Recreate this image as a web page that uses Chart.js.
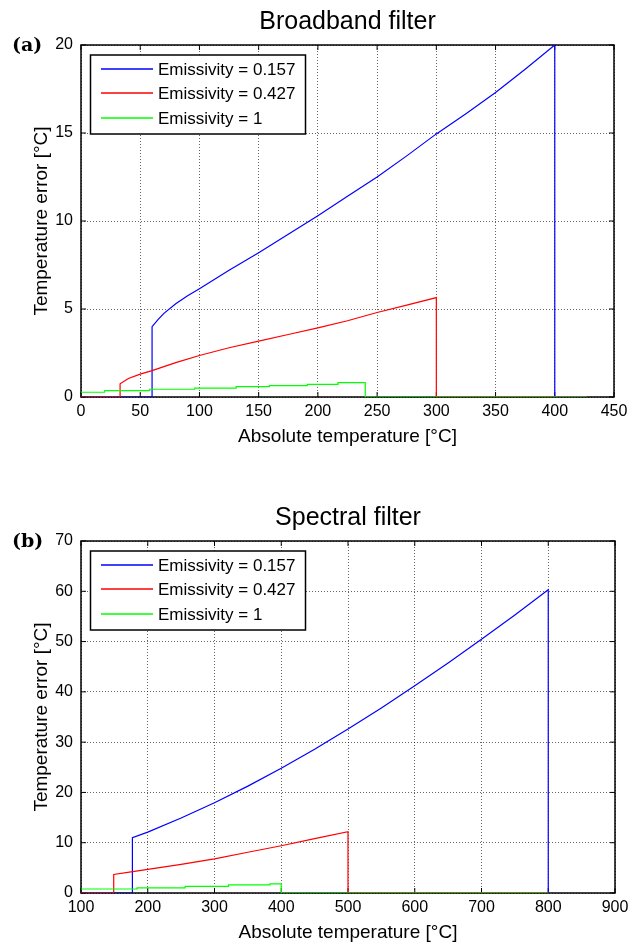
<!DOCTYPE html>
<html>
<head>
<meta charset="utf-8">
<script src="https://cdn.jsdelivr.net/npm/chart.js@4.4.1/dist/chart.umd.min.js"></script>
<style>
    body { margin: 0; background: #fff; width: 628px; height: 942px; position: relative; overflow: hidden; }
    canvas { position: absolute; left: 0; }
    .panel { position: absolute; left: 12px; font: bold 19px "DejaVu Serif", serif; line-height: 22px; color: #000; }
</style>
</head>
<body>
<canvas id="chartA" width="628" height="471" style="top:0"></canvas>
<canvas id="chartB" width="628" height="471" style="top:471px"></canvas>
<div class="panel" style="top:33px">(a)</div>
<div class="panel" style="top:529px">(b)</div>

<script>
// legend text, one per emissivity
const legendLabels = ["Emissivity = 0.157", "Emissivity = 0.427", "Emissivity = 1"];
const lineColors = ["#0000ff", "#ff0000", "#00ff00"];

// (a) broadband filter
const xTicksA = [0, 50, 100, 150, 200, 250, 300, 350, 400, 450];
const yTicksA = [0, 5, 10, 15, 20];
const blueTempA = [0, 60, 60, 65, 70, 80, 90, 100, 125, 150, 175, 200, 225, 250, 275, 300, 325, 350, 375, 400, 400, 427];
const blueErrA  = [0, 0, 4.0, 4.4, 4.75, 5.3, 5.75, 6.15, 7.2, 8.2, 9.25, 10.3, 11.4, 12.5, 13.7, 14.95, 16.1, 17.3, 18.62, 20.0, 0, 0];
const redTempA  = [0, 33, 33, 40, 50, 60, 80, 100, 125, 150, 175, 200, 225, 250, 275, 300, 300, 427];
const redErrA   = [0, 0, 0.75, 1.05, 1.3, 1.5, 1.95, 2.36, 2.8, 3.17, 3.55, 3.93, 4.33, 4.8, 5.22, 5.65, 0, 0];
const greenTempA = [0, 20, 20, 58, 58, 96, 96, 131, 131, 159, 159, 191, 191, 217, 217, 240, 240, 427];
const greenErrA  = [0.27, 0.27, 0.36, 0.36, 0.44, 0.44, 0.5, 0.5, 0.59, 0.59, 0.65, 0.65, 0.72, 0.72, 0.82, 0.82, 0, 0];

// (b) spectral filter
const xTicksB = [100, 200, 300, 400, 500, 600, 700, 800, 900];
const yTicksB = [0, 10, 20, 30, 40, 50, 60, 70];
const blueTempB = [100, 177, 177, 200, 250, 300, 350, 400, 450, 500, 550, 600, 650, 700, 750, 800, 800];
const blueErrB  = [0, 0, 11.0, 12.1, 14.9, 17.95, 21.25, 24.8, 28.6, 32.6, 36.8, 41.2, 45.75, 50.45, 55.3, 60.3, 0];
const redTempB  = [100, 149, 149, 180, 200, 250, 300, 350, 400, 450, 500, 500, 800];
const redErrB   = [0, 0, 3.7, 4.3, 4.7, 5.7, 6.8, 8.1, 9.4, 10.8, 12.2, 0, 0];
const greenTempB = [100, 184, 184, 256, 256, 321, 321, 383, 383, 400, 400, 800];
const greenErrB  = [0.8, 0.8, 1.0, 1.0, 1.3, 1.3, 1.6, 1.6, 1.8, 1.8, 0, 0];

const FONT = "'Liberation Sans', Arial, sans-serif";

function points(xs, ys) {
    return xs.map((x, i) => ({ x: x, y: ys[i] }));
}

// matlab style box, inward ticks and a legend inside the axes
const boxPlugin = {
    id: "box",
    beforeDatasetsDraw(chart) {
        const ctx = chart.ctx;
        const a = chart.chartArea;
        const sx = chart.scales.x, sy = chart.scales.y;
        ctx.save();
        ctx.strokeStyle = "#000";
        ctx.lineWidth = 1;
        ctx.beginPath();
        sx.ticks.forEach(t => {
            const px = sx.getPixelForValue(t.value);
            ctx.moveTo(px, a.bottom); ctx.lineTo(px, a.bottom - 5);
            ctx.moveTo(px, a.top); ctx.lineTo(px, a.top + 5);
        });
        sy.ticks.forEach(t => {
            const py = sy.getPixelForValue(t.value);
            ctx.moveTo(a.left, py); ctx.lineTo(a.left + 5, py);
            ctx.moveTo(a.right, py); ctx.lineTo(a.right - 5, py);
        });
        ctx.stroke();
        ctx.lineWidth = 1.5;
        ctx.strokeRect(a.left, a.top, a.right - a.left, a.bottom - a.top);
        ctx.restore();
    },
    afterDraw(chart) {
        const ctx = chart.ctx;
        const a = chart.chartArea;
        const bx = a.left + 9.5, by = a.top + 10;
        ctx.save();
        ctx.fillStyle = "#fff";
        ctx.fillRect(bx, by, 215, 79);
        ctx.strokeStyle = "#000";
        ctx.lineWidth = 1.5;
        ctx.strokeRect(bx, by, 215, 79);
        ctx.font = "17px " + FONT;
        ctx.textBaseline = "middle";
        legendLabels.forEach((label, i) => {
            const ly = Math.round(a.top + 24 + i * 24.4);
            ctx.strokeStyle = lineColors[i];
            ctx.lineWidth = 1.5;
            ctx.beginPath();
            ctx.moveTo(a.left + 20, ly);
            ctx.lineTo(a.left + 72, ly);
            ctx.stroke();
            ctx.fillStyle = "#000";
            ctx.fillText(label, a.left + 77, ly + 1);
        });
        ctx.restore();
    }
};

function makeChart(id, cfg) {
    const series = [
        points(cfg.blueX, cfg.blueY),
        points(cfg.redX, cfg.redY),
        points(cfg.greenX, cfg.greenY)
    ];
    return new Chart(document.getElementById(id).getContext("2d"), {
        type: "line",
        data: {
            datasets: series.map((d, i) => ({
                label: legendLabels[i],
                data: d,
                order: 2 - i, // green on top, like the original plot
                borderColor: lineColors[i],
                borderWidth: 1.2,
                pointRadius: 0,
                tension: 0,
                fill: false
            }))
        },
        options: {
            responsive: false,
            animation: false,
            layout: { padding: { left: 0, right: cfg.padRight, top: 0, bottom: 0 } },
            plugins: {
                legend: { display: false },
                tooltip: { enabled: false },
                title: {
                    display: true,
                    text: cfg.title,
                    fullSize: false,
                    color: "#000",
                    font: { family: FONT, size: 25, weight: "normal", lineHeight: 1 },
                    padding: { top: cfg.titleTop, bottom: 10 }
                }
            },
            scales: {
                x: {
                    type: "linear",
                    min: cfg.xTicks[0],
                    max: cfg.xTicks[cfg.xTicks.length - 1],
                    afterBuildTicks: s => { s.ticks = cfg.xTicks.map(v => ({ value: v })); },
                    afterFit: s => { s.height = cfg.xAxisHeight; s.paddingLeft = 0; s.paddingRight = 0; },
                    grid: { color: "rgba(0,0,0,0.6)", lineWidth: 1, drawTicks: false },
                    border: { display: false, dash: [1, 2] },
                    ticks: { color: "#000", padding: 5, maxRotation: 0, font: { family: FONT, size: 16 } },
                    title: {
                        display: true,
                        text: "Absolute temperature [°C]",
                        color: "#000",
                        font: { family: FONT, size: 19, lineHeight: 1 },
                        padding: { top: 0, bottom: cfg.xTitlePad }
                    }
                },
                y: {
                    min: cfg.yTicks[0],
                    max: cfg.yTicks[cfg.yTicks.length - 1],
                    afterBuildTicks: s => { s.ticks = cfg.yTicks.map(v => ({ value: v })); },
                    afterFit: s => { s.width = 81; s.paddingTop = 0; s.paddingBottom = 0; },
                    grid: { color: "rgba(0,0,0,0.6)", lineWidth: 1, drawTicks: false },
                    border: { display: false, dash: [1, 2] },
                    ticks: { color: "#000", padding: 8, font: { family: FONT, size: 16 } },
                    title: {
                        display: true,
                        text: "Temperature error [°C]",
                        color: "#000",
                        font: { family: FONT, size: 19, lineHeight: 1 },
                        padding: { top: 32, bottom: 0 }
                    }
                }
            }
        },
        plugins: [boxPlugin]
    });
}

makeChart("chartA", {
    title: "Broadband filter", titleTop: 10, padRight: 14, xAxisHeight: 74, xTitlePad: 24.5,
    xTicks: xTicksA, yTicks: yTicksA,
    blueX: blueTempA, blueY: blueErrA, redX: redTempA, redY: redErrA, greenX: greenTempA, greenY: greenErrA
});

makeChart("chartB", {
    title: "Spectral filter", titleTop: 35, padRight: 13, xAxisHeight: 49, xTitlePad: 0,
    xTicks: xTicksB, yTicks: yTicksB,
    blueX: blueTempB, blueY: blueErrB, redX: redTempB, redY: redErrB, greenX: greenTempB, greenY: greenErrB
});
</script>
</body>
</html>
